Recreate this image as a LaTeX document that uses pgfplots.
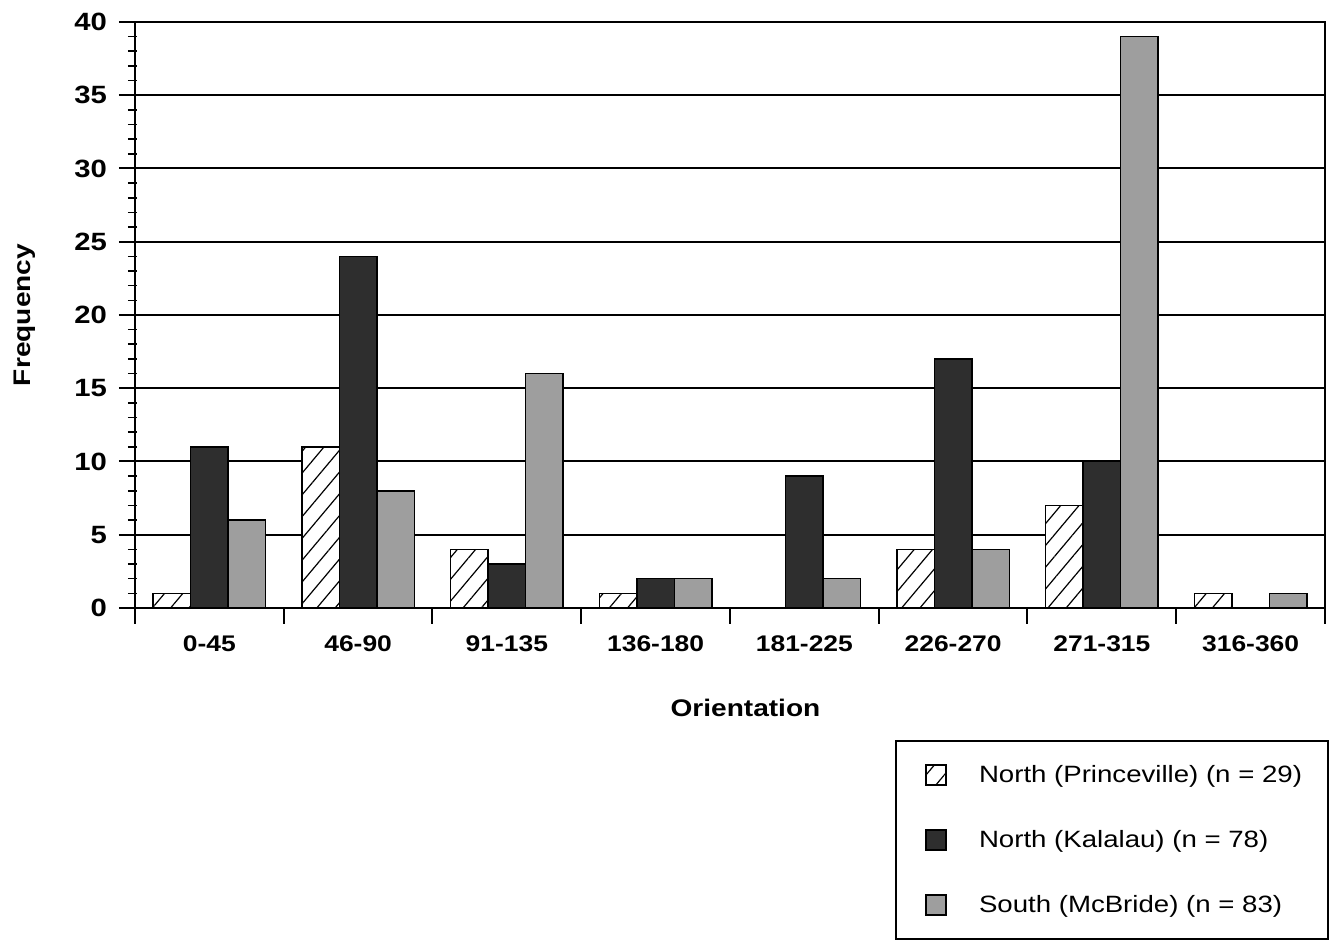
\documentclass[border=0pt]{standalone}
\usepackage{pgfplots}
\pgfplotsset{compat=1.18}
\usepackage{fontspec}
\setmainfont{Liberation Sans}[FakeStretch=1.17]
\usetikzlibrary{patterns.meta}
\begin{document}
\begin{tikzpicture}
\useasboundingbox (-67.5pt,-167pt) rectangle (597.5pt,304pt);
\begin{axis}[
  name=ax, at={(0,0)}, anchor=south west,
  scale only axis, width=595pt, height=293pt,
  xmin=-0.5, xmax=7.5, ymin=0, ymax=40,
  ybar=0pt, bar width=18.75pt,
  axis line style={line width=1pt},
  tick pos=left, tick align=outside,
  xtick={-0.5,0.5,...,7.5}, xticklabels={},
  major tick length=8pt,
  tick style={black, line width=1pt},
  extra x ticks={0,1,2,3,4,5,6,7},
  extra x tick labels={0-45,46-90,91-135,136-180,181-225,226-270,271-315,316-360},
  extra x tick style={major tick length=0pt, xticklabel style={yshift=-10.5pt}},
  xticklabel style={font=\fontsize{11.3}{13}\selectfont\bfseries},
  ytick={0,5,...,40}, minor y tick num=4,
  minor tick length=4.5pt,
  minor y tick style={xshift=1pt, line width=0.8pt},
  yticklabel style={font=\fontsize{12.5}{14}\selectfont\bfseries, xshift=-2.5pt},
  /pgf/number format/assume math mode=true,
  ymajorgrids, major grid style={black, line width=1pt},
  xlabel={\bfseries Orientation}, ylabel={\bfseries Frequency},
  xlabel style={font=\fontsize{12}{14}\selectfont, at={(axis description cs:0.513,-0.1706)}, anchor=center},
  ylabel style={font=\fontsize{12}{14}\selectfont, at={(axis description cs:-0.0924,0.5)}, anchor=center},
  legend style={at={(1.0034,-0.2253)}, anchor=north east, draw=black, line width=1pt,
    font=\fontsize{11.8}{13}\selectfont, row sep=16.5pt, inner xsep=10pt, inner ysep=9pt,
    nodes={inner sep=3pt}},
  legend cell align=left,
  legend image code/.code={\pgfpathmoveto{\pgfqpoint{0pt}{0pt}}\pgfpathmoveto{\pgfqpoint{28.5pt}{0pt}}\pgfusepath{}\draw[#1, line width=0.8pt] (5pt,-5pt) rectangle (15pt,5pt);},
]
\addplot[draw=black, line width=0.8pt, fill=white,
  postaction={pattern={Lines[angle=50,distance=7pt,line width=0.6pt]}}]
  coordinates {(0,1) (1,11) (2,4) (3,1) (4,0) (5,4) (6,7) (7,1)};
\addplot[draw=black, line width=0.8pt, fill=black!82]
  coordinates {(0,11) (1,24) (2,3) (3,2) (4,9) (5,17) (6,10) (7,0)};
\addplot[draw=black, line width=0.8pt, fill=black!38]
  coordinates {(0,6) (1,8) (2,16) (3,2) (4,2) (5,4) (6,39) (7,1)};
\legend{North (Princeville) (n = 29), North (Kalalau) (n = 78), South (McBride) (n = 83)}
\end{axis}
\end{tikzpicture}
\end{document}
